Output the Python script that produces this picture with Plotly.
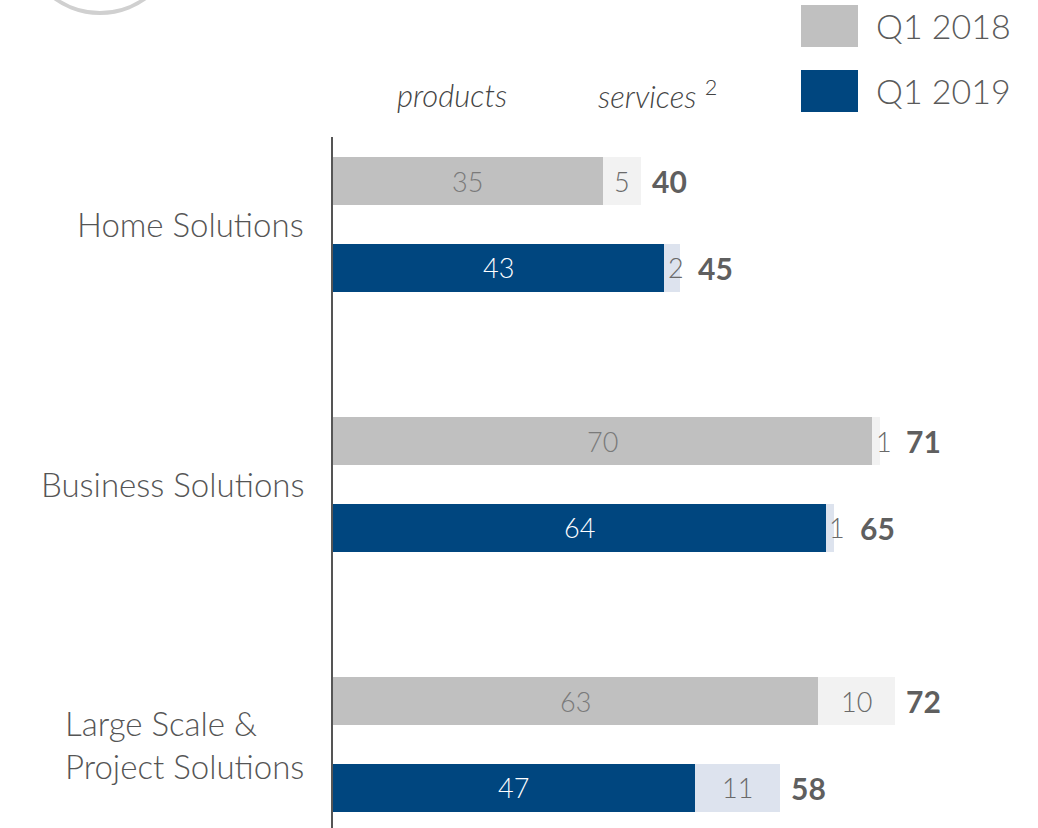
import plotly.graph_objects as go

# ---- data ----
categories = ["Home Solutions", "Business Solutions", "Large Scale &<br>Project Solutions"]
products_2018 = [35, 70, 63]
services_2018 = [5, 1, 10]
totals_2018 = [40, 71, 72]
products_2019 = [43, 64, 47]
services_2019 = [2, 1, 11]
totals_2019 = [45, 65, 58]
series_names = ["Q1 2018", "Q1 2019"]

# ---- style ----
FONT = "Lato"
C18P, C18S = "#c0c0c0", "#f2f2f2"
C19P, C19S = "#00467f", "#dde3ee"
TXT = "#5f5f5f"
W, H = 1038, 828
L, T = 333, 137
PXU = 7.7  # pixels per unit on x
XMAX = (W - L) / PXU
UNIT_Y = 86.67
Y0 = -44 / UNIT_Y
Y1 = Y0 + (H - T) / UNIT_Y
MIN_LABEL_W = 3  # minimum room (in units) reserved for a service label

y18 = [3 * i for i in range(len(categories))]
y19 = [3 * i + 1 for i in range(len(categories))]
bw = 0.55

def px(xp):
    return (xp - L) / (W - L)

def py(yp):
    return (H - yp) / (H - T)

fig = go.Figure()
fig.add_bar(y=y18, x=products_2018, orientation="h", width=bw, marker=dict(color=C18P, line_width=0), showlegend=False)
fig.add_bar(y=y18, x=services_2018, orientation="h", width=bw, marker=dict(color=C18S, line_width=0), showlegend=False)
fig.add_bar(y=y19, x=products_2019, orientation="h", width=bw, marker=dict(color=C19P, line_width=0), showlegend=False)
fig.add_bar(y=y19, x=services_2019, orientation="h", width=bw, marker=dict(color=C19S, line_width=0), showlegend=False)

ann = []
def lab(x, y, t, color, size=27, bold=False, xanchor="center"):
    ann.append(dict(x=x, y=y, xref="x", yref="y", text=t, showarrow=False, xanchor=xanchor,
                    yanchor="middle", font=dict(family=FONT, size=size, color=color,
                                                weight=700 if bold else 300)))

for prods, servs, tots, ys, pcol in [(products_2018, services_2018, totals_2018, y18, "#7a7a7a"),
                                     (products_2019, services_2019, totals_2019, y19, "white")]:
    for p, s, tt, y in zip(prods, servs, tots, ys):
        room = max(s, MIN_LABEL_W)
        lab(p / 2, y, str(p), pcol)
        lab(p + room / 2, y, str(s), "#6a6a6a")
        lab(p + room + 1.2, y, str(tt), TXT, size=30, bold=True, xanchor="left")

for i, c in enumerate(categories):
    ann.append(dict(x=px(306), y=3 * i + 0.5, xref="paper", yref="y", text=c, showarrow=False,
                    xanchor="right", yanchor="middle", align="left",
                    font=dict(family=FONT, size=33, color="#555555", weight=300)))

# headers
ann.append(dict(x=px(452), y=py(95), xref="paper", yref="paper", text="<i>products</i>", showarrow=False,
                xanchor="center", yanchor="middle", font=dict(family=FONT, size=31, color="#444444", weight=300)))
ann.append(dict(x=px(596), y=py(95), xref="paper", yref="paper", text="<i>services</i> <sup>2</sup>", showarrow=False,
                xanchor="left", yanchor="middle", font=dict(family=FONT, size=31, color="#444444", weight=300)))

# legend
shapes = []
for name, col, yc in [(series_names[0], C18P, 26), (series_names[1], C19P, 91)]:
    shapes.append(dict(type="rect", xref="paper", yref="paper", x0=px(801), x1=px(858),
                       y0=py(yc + 21), y1=py(yc - 21), fillcolor=col, line_width=0))
    ann.append(dict(x=px(874), y=py(yc), xref="paper", yref="paper", text=name, showarrow=False,
                    xanchor="left", yanchor="middle", font=dict(family=FONT, size=34, color="#5a5a5a", weight=300)))

# decorative circle top-left
shapes.append(dict(type="circle", xref="paper", yref="paper", x0=px(23), x1=px(177),
                   y0=py(13), y1=py(-141), line=dict(color="#d0d0d0", width=4)))

fig.update_layout(
    width=W, height=H, barmode="stack", bargap=0,
    margin=dict(l=L, r=0, t=T, b=0),
    paper_bgcolor="white", plot_bgcolor="white",
    xaxis=dict(range=[0, XMAX], visible=False, fixedrange=True),
    yaxis=dict(range=[Y1, Y0], showticklabels=False, showgrid=False, zeroline=False,
               showline=True, linecolor="#555555", linewidth=1.5, ticks=""),
    annotations=ann, shapes=shapes, showlegend=False,
)
fig.write_html("out.html")
